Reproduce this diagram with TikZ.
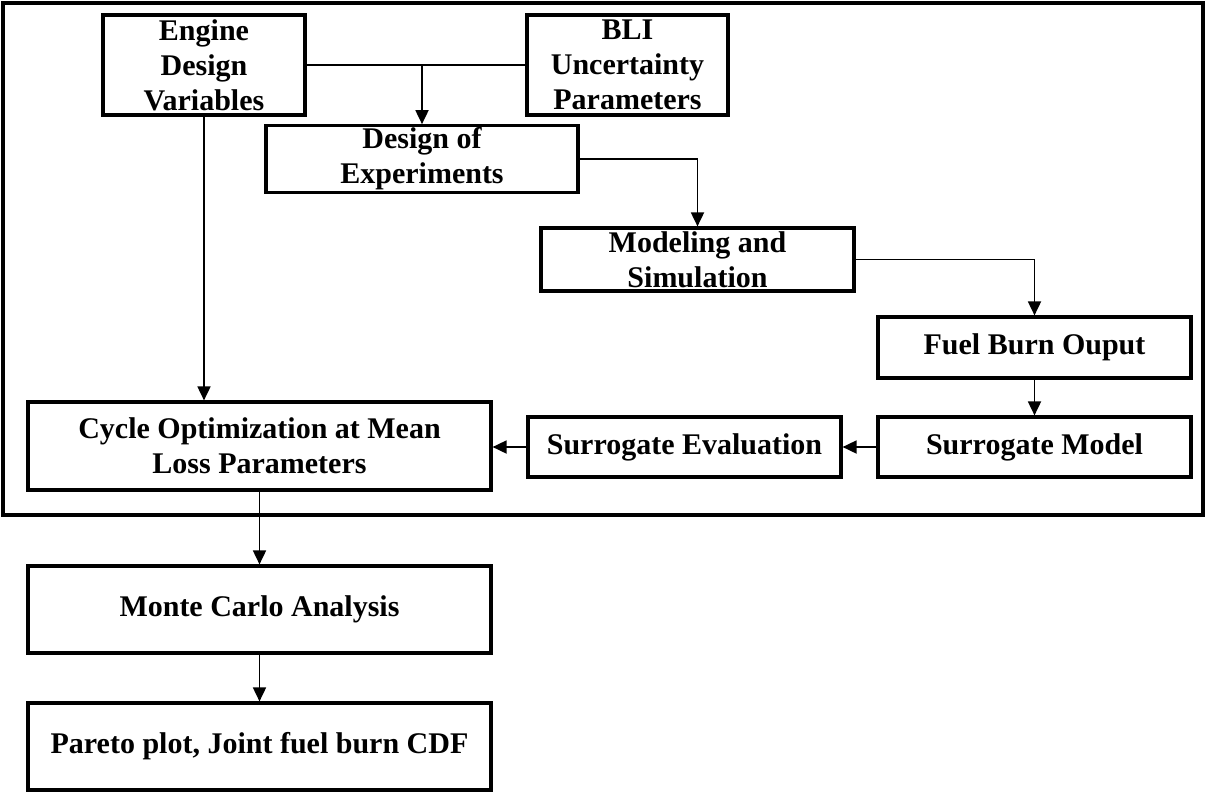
\documentclass[tikz,border=0pt]{standalone}
\usepackage{fontspec}
\setmainfont{Liberation Serif}
\usetikzlibrary{arrows.meta}
\tikzset{
	blk/.style={draw=black,line width=1.6pt,rectangle,align=center,inner sep=1pt,font=\fontsize{15}{17.5}\selectfont\bfseries},
	arr/.style={black,line width=0.9pt,-{Triangle[length=7pt,width=6.5pt]}},
	ln/.style={black,line width=0.9pt}
}
\begin{document}
\begin{tikzpicture}[x=0.5pt,y=-0.5pt]
		\useasboundingbox (0,0) rectangle (1206,794);
		\draw[black,line width=2pt] (3,3) rectangle (1203,515);
		\node[blk,minimum width=101pt,minimum height=50pt](eng) at (204,65){Engine\\Design\\Variables};
		\node[blk,minimum width=100.5pt,minimum height=50pt](bli) at (627.5,65){BLI\\Uncertainty\\Parameters};
		\node[blk,minimum width=156pt,minimum height=31pt](doe) at (422,159){Design of\\Experiments};
		\node[blk,minimum width=156.5pt,minimum height=31.5pt](mod) at (697.5,259.5){Modeling and\\Simulation};
		\node[blk,minimum width=156.5pt,minimum height=30.5pt](fuel) at (1034.5,347.5){Fuel Burn Ouput};
		\node[blk,minimum width=156.5pt,minimum height=30pt](smod) at (1034.5,447){Surrogate Model};
		\node[blk,minimum width=156.5pt,minimum height=30pt](seval) at (684.5,447){Surrogate Evaluation};
		\node[blk,minimum width=231.5pt,minimum height=44pt](cyc) at (259.5,446){Cycle Optimization at Mean\\Loss Parameters};
		\node[blk,minimum width=231.5pt,minimum height=43.5pt](mc) at (259.5,609.5){Monte Carlo Analysis};
		\node[blk,minimum width=231.5pt,minimum height=43.5pt](par) at (259.5,746.5){Pareto plot, Joint fuel burn CDF};
		\coordinate (j1) at (doe.north |- eng.east);
		\draw[ln] (eng.east)--(bli.west);
		\draw[arr] (j1)--(doe.north);
		\draw[arr] (doe.east)-|(mod.north);
		\draw[arr] (mod.east)-|(fuel.north);
		\draw[arr] (fuel.south)--(smod.north);
		\draw[arr] (smod.west)--(seval.east);
		\draw[arr] (seval.west)--(seval.west -| cyc.east);
		\draw[arr] (eng.south)--(eng.south |- cyc.north);
		\draw[arr] (cyc.south)--(mc.north);
		\draw[arr] (mc.south)--(par.north);
	\end{tikzpicture}
\end{document}
